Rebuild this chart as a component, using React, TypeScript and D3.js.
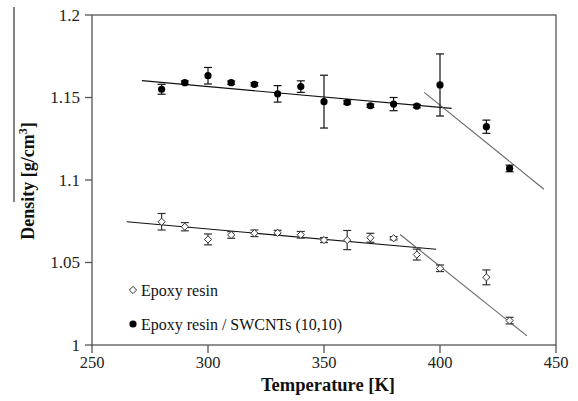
import * as d3 from "d3";

// temperatures [K]
const temps = [280, 290, 300, 310, 320, 330, 340, 350, 360, 370, 380, 390, 400, 420, 430];

// epoxy resin (open diamonds)
const epoxyDensity = [1.0747, 1.0717, 1.064, 1.0667, 1.0677, 1.068, 1.0668, 1.0636, 1.0636, 1.065, 1.0647, 1.0548, 1.0465, 1.041, 1.0148];
const epoxyErr = [0.005, 0.0025, 0.0033, 0.002, 0.002, 0.0015, 0.002, 0.0015, 0.0058, 0.0027, 0.001, 0.0033, 0.002, 0.0045, 0.002];

// epoxy resin / SWCNTs (10,10) (filled circles)
const cntDensity = [1.155, 1.159, 1.1632, 1.159, 1.158, 1.1522, 1.1566, 1.1475, 1.147, 1.145, 1.146, 1.1448, 1.1576, 1.1323, 1.107];
const cntErr = [0.003, 0.001, 0.005, 0.001, 0.001, 0.005, 0.0035, 0.016, 0.001, 0.001, 0.004, 0.001, 0.0188, 0.004, 0.002];

// fitted trend lines [[T0, d0], [T1, d1]]
const cntFlat = [[271.5, 1.1602], [405, 1.1434]];
const cntSteep = [[393.2, 1.1531], [444.8, 1.0944]];
const epoxyFlat = [[265, 1.0747], [398.3, 1.058]];
const epoxySteep = [[382.8, 1.067], [437.5, 1.0055]];

const xTicks = [250, 300, 350, 400, 450];
const yTicks = [1, 1.05, 1.1, 1.15, 1.2];
const yTickLabels = ["1", "1.05", "1.1", "1.15", "1.2"];

const W = 578;
const H = 401;
const font = "'Liberation Serif', 'DejaVu Serif', serif";

export default function App() {
  const x = d3.scaleLinear().domain([250, 450]).range([92, 556]);
  const y = d3.scaleLinear().domain([1, 1.2]).range([345, 15]);
  const line = d3.line<number[]>().x((d) => x(d[0])).y((d) => y(d[1]));
  const axisColor = "#555";
  const txt = { fontFamily: font };

  const errBar = (t: number, v: number, e: number, color: string, key: string) => (
    <g key={key} stroke={color} strokeWidth={1.2}>
      <line x1={x(t)} x2={x(t)} y1={y(v + e)} y2={y(v - e)} />
      <line x1={x(t) - 4} x2={x(t) + 4} y1={y(v + e)} y2={y(v + e)} />
      <line x1={x(t) - 4} x2={x(t) + 4} y1={y(v - e)} y2={y(v - e)} />
    </g>
  );

  const diamond = (cx: number, cy: number, r: number) =>
    `M${cx},${cy - r}L${cx + r},${cy}L${cx},${cy + r}L${cx - r},${cy}Z`;

  return (
    <svg
      width={W}
      height={H}
      style={{ position: "absolute", left: 0, top: 0, background: "#fff" }}
    >
      {/* frame */}
      <rect x={92} y={15} width={556 - 92} height={345 - 15} fill="none" stroke={axisColor} strokeWidth={1.3} />
      {yTicks.map((t, i) => (
        <g key={"y" + t}>
          <line x1={85} x2={92} y1={y(t)} y2={y(t)} stroke={axisColor} strokeWidth={1.3} />
          <text x={80} y={y(t)} dy="0.35em" textAnchor="end" fontSize={17} fill="#222" style={txt}>
            {yTickLabels[i]}
          </text>
        </g>
      ))}
      {xTicks.map((t) => (
        <g key={"x" + t}>
          <line x1={x(t)} x2={x(t)} y1={345} y2={353} stroke={axisColor} strokeWidth={1.3} />
          <text x={x(t)} y={368} textAnchor="middle" fontSize={16.5} fill="#222" style={txt}>
            {t}
          </text>
        </g>
      ))}

      {/* axis titles */}
      <text x={328} y={391} textAnchor="middle" fontSize={18.5} fontWeight="bold" fill="#111" style={txt}>
        Temperature [K]
      </text>
      <text
        transform="translate(34,181) rotate(-90)"
        textAnchor="middle"
        fontSize={18}
        fontWeight="bold"
        fill="#111"
        style={txt}
      >
        Density [g/cm<tspan dy={-7} fontSize={12}>3</tspan><tspan dy={7}>]</tspan>
      </text>
      <line x1={14} x2={14} y1={7} y2={202} stroke="#333" strokeWidth={1.2} />

      {/* trend lines */}
      <path d={line(cntFlat) ?? ""} fill="none" stroke="#111" strokeWidth={1.1} />
      <path d={line(cntSteep) ?? ""} fill="none" stroke="#666" strokeWidth={1.1} />
      <path d={line(epoxyFlat) ?? ""} fill="none" stroke="#111" strokeWidth={1.1} />
      <path d={line(epoxySteep) ?? ""} fill="none" stroke="#666" strokeWidth={1.1} />

      {/* error bars */}
      {temps.map((t, i) => errBar(t, cntDensity[i], cntErr[i], "#111", "ce" + t))}
      {temps.map((t, i) => errBar(t, epoxyDensity[i], epoxyErr[i], "#333", "ee" + t))}

      {/* markers */}
      {temps.map((t, i) => (
        <circle key={"c" + t} cx={x(t)} cy={y(cntDensity[i])} r={3.6} fill="#000" />
      ))}
      {temps.map((t, i) => (
        <path
          key={"d" + t}
          d={diamond(x(t), y(epoxyDensity[i]), 3.6)}
          fill="#fff"
          stroke="#333"
          strokeWidth={1}
        />
      ))}

      {/* legend */}
      <path d={diamond(133, 290, 3.6)} fill="#fff" stroke="#333" strokeWidth={1} />
      <text x={141} y={290} dy="0.35em" fontSize={16} fill="#111" style={txt}>
        Epoxy resin
      </text>
      <circle cx={133} cy={324} r={3.6} fill="#000" />
      <text x={141} y={324} dy="0.35em" fontSize={16} fill="#111" style={txt}>
        Epoxy resin / SWCNTs (10,10)
      </text>
    </svg>
  );
}
